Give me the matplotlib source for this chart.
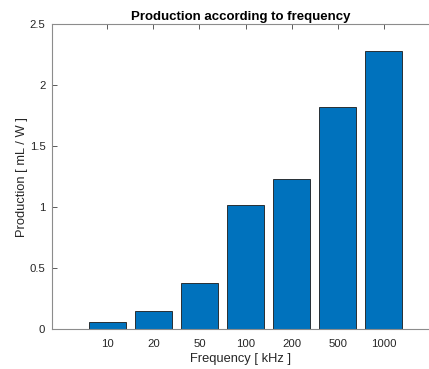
import matplotlib
matplotlib.use("Agg")
import matplotlib.pyplot as plt

categories = ["10", "20", "50", "100", "200", "500", "1000"]
production = [0.057, 0.15, 0.38, 1.02, 1.23, 1.825, 2.285]

plt.rcParams['font.family'] = ['Liberation Sans', 'DejaVu Sans']

W, H = 429, 369
fig = plt.figure(figsize=(W / 100, H / 100), dpi=100)
left, right, top, bottom = 52.3, 429.5, 24.3, 329.3
ax = fig.add_axes([left / W, 1 - bottom / H, (right - left) / W, (bottom - top) / H])

x = list(range(1, len(categories) + 1))
ax.bar(x, production, width=0.8, color="#0072BD", edgecolor="#1a1a1a", linewidth=0.6, zorder=2)

ax.set_xlim(-0.193, 7.99)
ax.set_ylim(0, 2.5)
ax.set_xticks(x)
ax.set_xticklabels(categories)
ax.set_yticks([0, 0.5, 1, 1.5, 2, 2.5])
ax.set_yticklabels(["0", "0.5", "1", "1.5", "2", "2.5"])

axc = "#262626"
for s in ["left", "bottom", "top"]:
    ax.spines[s].set_color("#8c8c8c")
    ax.spines[s].set_linewidth(0.8)
ax.spines["right"].set_visible(False)
ax.tick_params(axis="both", direction="in", length=3.5, width=0.6, colors="#404040",
               labelsize=8.2, labelcolor=axc)
ax.tick_params(axis="x", top=True, pad=7)
ax.tick_params(axis="y", pad=5)

ax.set_xlabel("Frequency [ kHz ]", fontsize=9.3, color=axc, labelpad=3)
ax.set_ylabel("Production [ mL / W ]", fontsize=9.3, color=axc, labelpad=1.5)
ax.set_title("Production according to frequency", fontsize=9.5, fontweight="bold",
             color="black", pad=3)

fig.savefig("out.png", dpi=100)
